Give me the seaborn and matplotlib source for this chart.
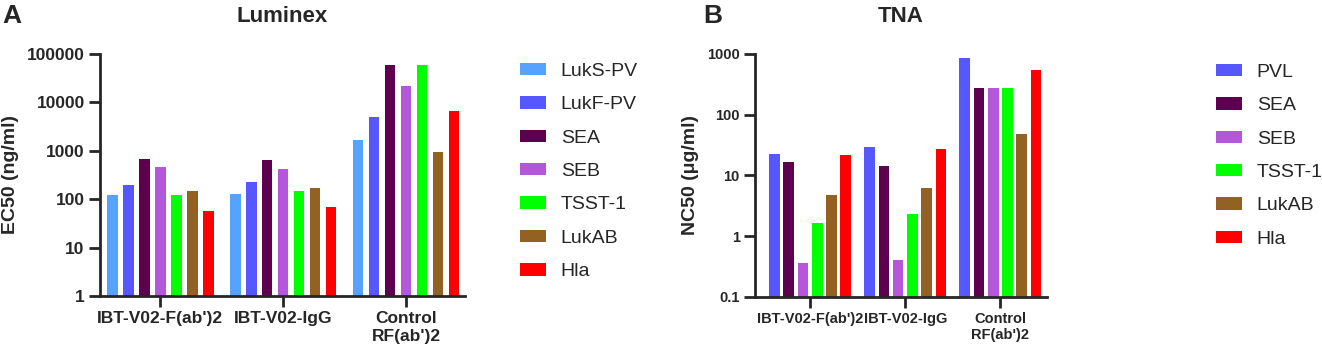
import numpy as np
import pandas as pd
import matplotlib
matplotlib.use('Agg')
import matplotlib.pyplot as plt
import matplotlib.ticker as mticker
import seaborn as sns

# data
groups = ["IBT-V02-F(ab')2", "IBT-V02-IgG", "Control\nRF(ab')2"]

lum_toxins = ['LukS-PV', 'LukF-PV', 'SEA', 'SEB', 'TSST-1', 'LukAB', 'Hla']
lum_fab = [125, 200, 680, 460, 125, 145, 58]
lum_igg = [130, 230, 650, 430, 150, 170, 68]
lum_ctrl = [1650, 5000, 58000, 22000, 58000, 960, 6600]

tna_toxins = ['PVL', 'SEA', 'SEB', 'TSST-1', 'LukAB', 'Hla']
tna_fab = [23, 17, 0.36, 1.65, 4.7, 22]
tna_igg = [29, 14.5, 0.41, 2.35, 6.2, 27]
tna_ctrl = [870, 275, 275, 275, 48.5, 550]

colors = {'LukS-PV': '#55A2FF', 'LukF-PV': '#5757FF', 'PVL': '#5757FF',
          'SEA': '#5E0050', 'SEB': '#B557DB', 'TSST-1': '#00FF00',
          'LukAB': '#936223', 'Hla': '#FF0000'}


def long_df(toxins, series):
    rows = []
    for g, vals in zip(groups, series):
        for t, v in zip(toxins, vals):
            rows.append({'Group': g, 'Toxin': t, 'Value': v})
    return pd.DataFrame(rows)


lum_df = long_df(lum_toxins, [lum_fab, lum_igg, lum_ctrl])
tna_df = long_df(tna_toxins, [tna_fab, tna_igg, tna_ctrl])

sns.set_style('ticks')
plt.rcParams['font.family'] = ['Liberation Sans', 'DejaVu Sans']
plt.rcParams['axes.linewidth'] = 2

fig = plt.figure(figsize=(13.22, 3.49), dpi=100)
W, H = 1322, 349
axA = fig.add_axes([100 / W, 1 - 296 / H, 365 / W, 242 / H])
axB = fig.add_axes([755 / W, 1 - 297 / H, 292 / W, 243 / H])


def draw(ax, df, toxins, width, gap, ylim, yticks, ylabel, xlim, tsize):
    sns.barplot(data=df, x='Group', y='Value', hue='Toxin', hue_order=toxins,
                palette=[colors[t] for t in toxins], saturation=1,
                width=width, gap=gap, linewidth=0, ax=ax, legend=True)
    ax.set_yscale('log')
    ax.set_ylim(*ylim)
    ax.set_xlim(*xlim)
    ax.set_yticks(yticks)
    ax.yaxis.set_minor_locator(mticker.NullLocator())
    ax.yaxis.set_major_formatter(mticker.FuncFormatter(lambda v, p: f'{v:.10g}'))
    sns.despine(ax=ax)
    ax.tick_params(axis='both', width=2, length=8, labelsize=tsize, pad=3)
    for lab in ax.get_xticklabels() + ax.get_yticklabels():
        lab.set_fontweight('bold')
    ax.set_xlabel('')
    ax.set_ylabel(ylabel, fontsize=14, fontweight='bold', labelpad=6)
    handles, labels = ax.get_legend_handles_labels()
    ax.get_legend().remove()
    return handles, labels


hA, lA = draw(axA, lum_df, lum_toxins, 0.91, 0.33, (1, 100000),
              [1, 10, 100, 1000, 10000, 100000],
              'EC50 (ng/ml)', (-0.49, 2.48), 12.5)
hB, lB = draw(axB, tna_df, tna_toxins, 0.9, 0.25, (0.1, 1000),
              [0.1, 1, 10, 100, 1000],
              'NC50 (\u03bcg/ml)', (-0.58, 2.49), 10.5)

leg_kw = dict(loc='upper left', frameon=False, fontsize=14, handlelength=1.35,
              handleheight=0.6, labelspacing=0.84, handletextpad=0.75,
              borderpad=0, borderaxespad=0)
fig.legend(hA, lA, bbox_to_anchor=(520 / W, 1 - 63 / H), **leg_kw)
fig.legend(hB, lB, bbox_to_anchor=(1216 / W, 1 - 64 / H), **leg_kw)

fig.text(282 / W, 1 - 16 / H, 'Luminex', ha='center', va='center', fontsize=16, fontweight='bold')
fig.text(901 / W, 1 - 16 / H, 'TNA', ha='center', va='center', fontsize=16, fontweight='bold')
fig.text(2 / W, 1 - 16 / H, 'A', ha='left', va='center', fontsize=19, fontweight='bold')
fig.text(703 / W, 1 - 16 / H, 'B', ha='left', va='center', fontsize=19, fontweight='bold')

fig.savefig('out.png', dpi=100)
